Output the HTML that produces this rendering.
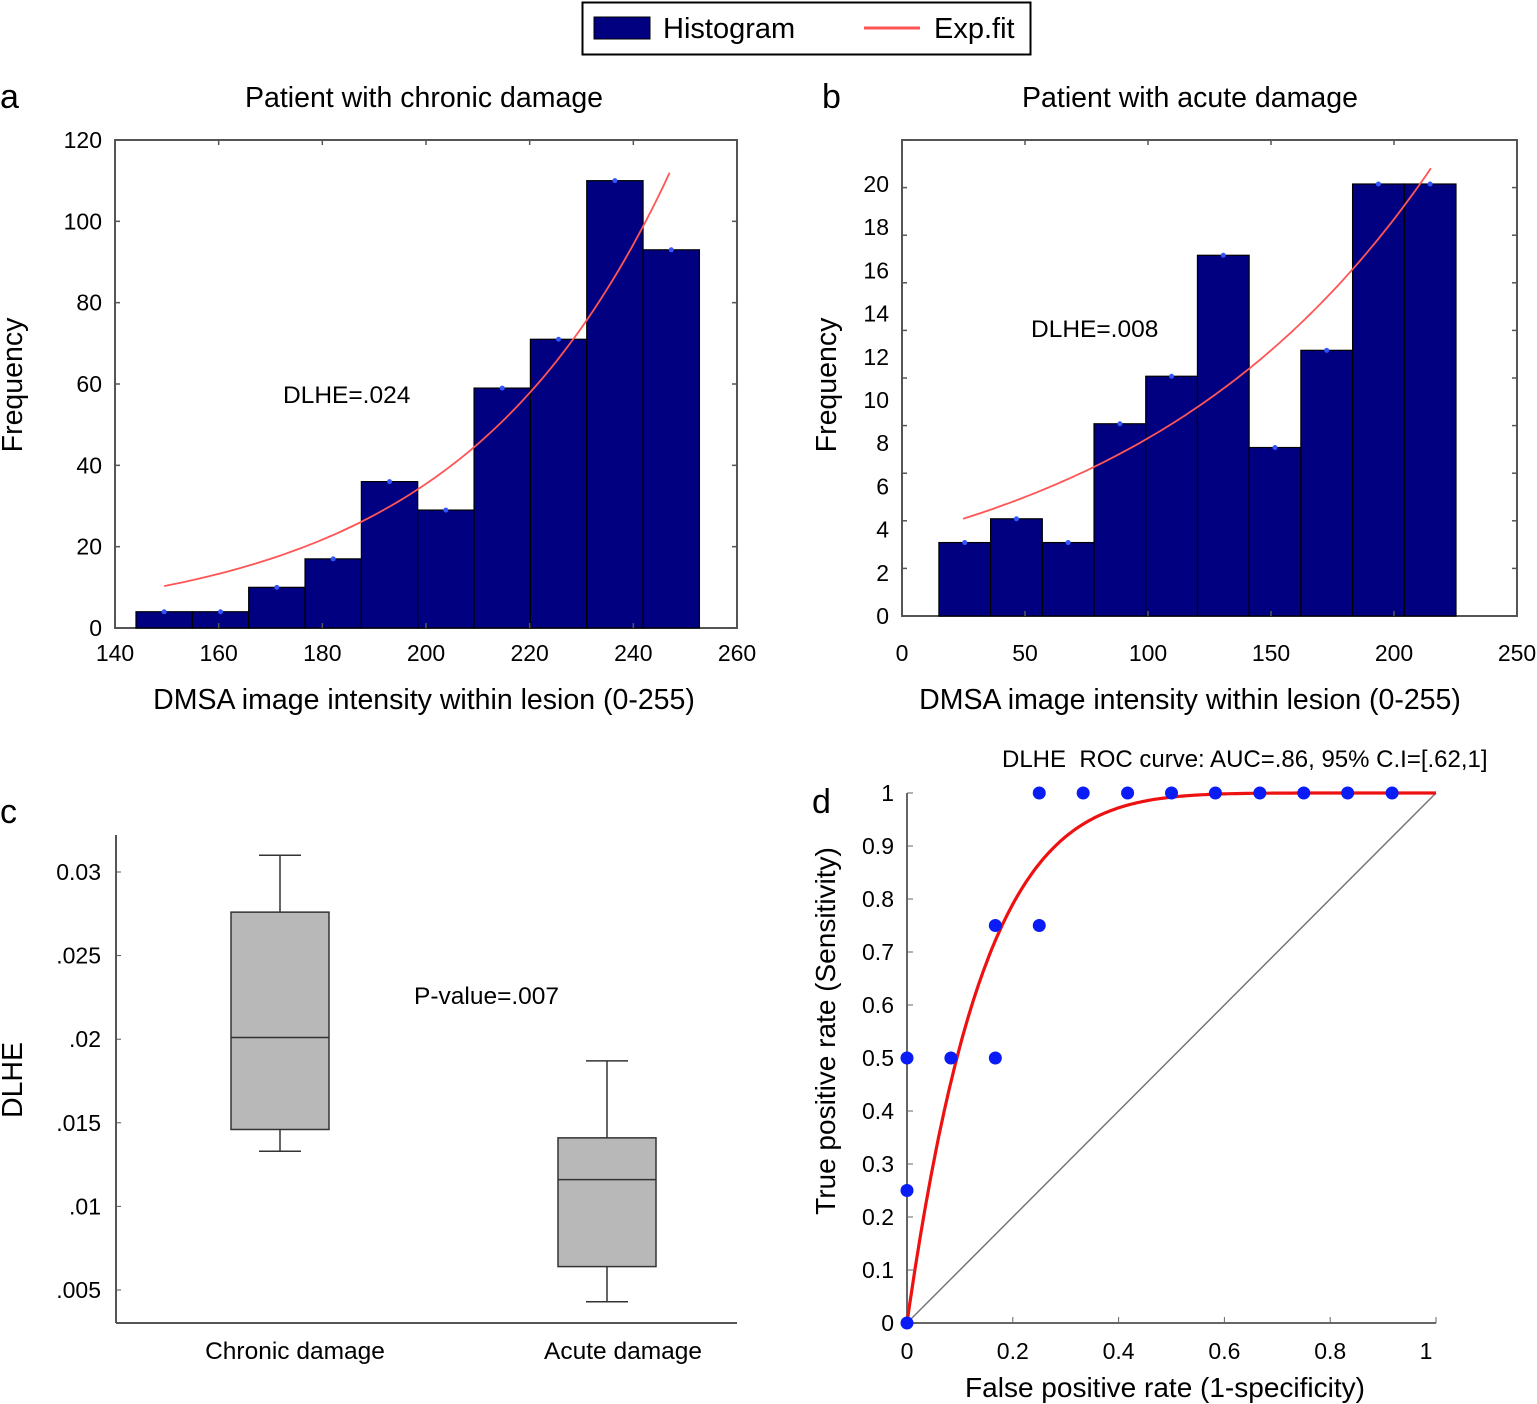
<!DOCTYPE html>
<html><head><meta charset="utf-8"><style>
body{margin:0;background:#fff}
svg{display:block;font-family:"Liberation Sans",Arial,sans-serif}
</style></head><body>
<svg id="fig" width="1537" height="1404" viewBox="0 0 1537 1404" xmlns="http://www.w3.org/2000/svg">
<g>
<rect x="582.5" y="2.5" width="448" height="52" fill="#fff" stroke="#000" stroke-width="2"/>
<rect x="594" y="17" width="56" height="22" fill="#000080" stroke="#000"/>
<text x="663" y="38" font-size="29">Histogram</text>
<line x1="864" y1="28" x2="920" y2="28" stroke="#f55" stroke-width="3"/>
<text x="934" y="38" font-size="29">Exp.fit</text>
</g>
<text x="0" y="108" font-size="34">a</text>
<text x="822" y="108" font-size="34">b</text>
<text x="0" y="823" font-size="34">c</text>
<text x="812" y="813" font-size="34">d</text>
<g id="pa"></g>
<g id="pb"></g>
<g id="pc"></g>
<g id="pd"></g>
</svg>
<script>
// Panel a data
const aBinStart = 144.05, aBinWidth = 10.87;
const aCounts = [4,4,10,17,36,29,59,71,110,93];
const aFitA = 10.3, aFitB = 0.02447, aFitX0 = 149.5, aFitX1 = 247;
const aXTicks = [140,160,180,200,220,240,260];
const aYTicks = [0,20,40,60,80,100,120];
// Panel b data
const bBinStart = 15.0, bBinWidth = 21.02;
const bCounts = [3.4,4.5,3.4,8.9,11.1,16.7,7.8,12.3,20,20];
const bFitA = 4.5, bFitB = 0.00803, bFitX0 = 24.8, bFitX1 = 215;
const bXTicks = [0,50,100,150,200,250];
const bYTicks = [0,2,4,6,8,10,12,14,16,18,20];
// Panel c data
const cGroups = ["Chronic damage","Acute damage"];
const cMin = [0.0133,0.0043];
const cQ1 = [0.0146,0.0064];
const cMed = [0.0201,0.0116];
const cQ3 = [0.0276,0.0141];
const cMax = [0.031,0.0187];
const cYTicks = [0.005,0.01,0.015,0.02,0.025,0.03];
const cYLabels = [".005",".01",".015",".02",".025","0.03"];
// Panel d data
const dFpr = [0,0,0,0.083,0.167,0.167,0.25,0.25,0.333,0.417,0.5,0.583,0.667,0.75,0.833,0.917];
const dTpr = [0,0.25,0.5,0.5,0.5,0.75,0.75,1,1,1,1,1,1,1,1,1];
const dFitK = 7;
const dXTicks = [0,0.2,0.4,0.6,0.8,1];
const dYTicks = [0,0.1,0.2,0.3,0.4,0.5,0.6,0.7,0.8,0.9,1];

const NS="http://www.w3.org/2000/svg";
function mk(parent,tag,attrs,text){const e=document.createElementNS(NS,tag);for(const k in attrs)e.setAttribute(k,attrs[k]);if(text!==undefined)e.textContent=text;parent.appendChild(e);return e;}
function lin(d0,d1,r0,r1){return v=>r0+(v-d0)*(r1-r0)/(d1-d0);}

function hist(g,o){
  const X=lin(o.xmin,o.xmax,o.L,o.R), Y=lin(0,o.ymaxv,o.B,o.yAtMax);
  const YT=o.tickStep?(v=>o.B-v*o.tickStep):Y;
  let t;
  t=mk(g,'rect',{x:o.L,y:o.T,width:o.R-o.L,height:o.B-o.T,fill:'#fff',stroke:'#555','stroke-width':2});
  
  
  o.counts.forEach((c,i)=>{
    const x0=X(o.start+i*o.w), x1=X(o.start+(i+1)*o.w);
    const r=mk(g,'rect',{x:x0,y:Y(c),width:x1-x0,height:o.B-Y(c),fill:'#000080',stroke:'#000','stroke-width':1.2});
    
    
    const d=mk(g,'circle',{cx:(x0+x1)/2,cy:Y(c),r:2.5,fill:'#3355ff'});
    
    
  });
  let p='';
  for(let i=0;i<=80;i++){const v=o.f0+(o.f1-o.f0)*i/80;const yv=o.fa*Math.exp(o.fb*(v-o.f0));p+=(i?'L':'M')+X(v).toFixed(1)+','+Y(yv).toFixed(1);}
  t=mk(g,'path',{d:p,fill:'none',stroke:'#f55','stroke-width':1.8});
  
  
  o.xt.forEach(v=>{
    mk(g,'line',{x1:X(v),x2:X(v),y1:o.B,y2:o.B-5,stroke:'#555','stroke-width':1.5});
    mk(g,'line',{x1:X(v),x2:X(v),y1:o.T,y2:o.T+5,stroke:'#555','stroke-width':1.5});
    t=mk(g,'text',{x:X(v),y:661,'font-size':23,'text-anchor':'middle'},String(v));
    
    
  });
  o.yt.forEach(v=>{
    if(YT(v)>=o.T){
      mk(g,'line',{x1:o.L,x2:o.L+5,y1:YT(v),y2:YT(v),stroke:'#555','stroke-width':1.5});
      mk(g,'line',{x1:o.R,x2:o.R-5,y1:YT(v),y2:YT(v),stroke:'#555','stroke-width':1.5});
    }
    t=mk(g,'text',{x:o.L-13,y:Y(v)+8,'font-size':23,'text-anchor':'end'},String(v));
    
    
  });
  t=mk(g,'text',{x:o.titleX,y:107,'font-size':28.5,'text-anchor':'middle'},o.title);
  
  
  t=mk(g,'text',{x:o.titleX,y:709,'font-size':28.5,'text-anchor':'middle'},'DMSA image intensity within lesion (0-255)');
  
  
  t=mk(g,'text',{x:0,y:0,'font-size':28.5,'text-anchor':'middle',transform:`translate(${o.ytX},${385}) rotate(-90)`},'Frequency');
  
  
  t=mk(g,'text',{x:o.annX,y:o.annY,'font-size':24.5},o.ann);
  
  
}
hist(document.getElementById('pa'),{L:115,R:737,T:140,B:628,xmin:140,xmax:260,ymaxv:120,yAtMax:140,start:aBinStart,w:aBinWidth,counts:aCounts,fa:aFitA,fb:aFitB,f0:aFitX0,f1:aFitX1,xt:aXTicks,yt:aYTicks,title:'Patient with chronic damage',titleX:424,ytX:22,ann:'DLHE=.024',annX:283,annY:403});
hist(document.getElementById('pb'),{L:902,R:1517,T:140,B:616,xmin:0,xmax:250,ymaxv:20,yAtMax:184,tickStep:23.8,start:bBinStart,w:bBinWidth,counts:bCounts,fa:bFitA,fb:bFitB,f0:bFitX0,f1:bFitX1,xt:bXTicks,yt:bYTicks,title:'Patient with acute damage',titleX:1190,ytX:836,ann:'DLHE=.008',annX:1031,annY:337});

// Panel c
(function(){
  const g=document.getElementById('pc');
  const Y=lin(0.03,0.005,872,1290);
  const cx=[280,607], hw=49, cap=21;
  let t;
  mk(g,'line',{x1:116,x2:116,y1:835,y2:1323,stroke:'#555','stroke-width':2});
  mk(g,'line',{x1:116,x2:737,y1:1323,y2:1323,stroke:'#555','stroke-width':2});
  cYTicks.forEach((v,i)=>{
    mk(g,'line',{x1:116,x2:121,y1:Y(v),y2:Y(v),stroke:'#555'});
    t=mk(g,'text',{x:101,y:Y(v)+8,'font-size':23,'text-anchor':'end'},cYLabels[i]);
    
    
  });
  cGroups.forEach((name,i)=>{
    const b=mk(g,'g',{});
    
    
    const st={stroke:'#333','stroke-width':1.5};
    mk(b,'line',Object.assign({x1:cx[i],x2:cx[i],y1:Y(cMax[i]),y2:Y(cQ3[i])},st));
    mk(b,'line',Object.assign({x1:cx[i],x2:cx[i],y1:Y(cQ1[i]),y2:Y(cMin[i])},st));
    mk(b,'line',Object.assign({x1:cx[i]-cap,x2:cx[i]+cap,y1:Y(cMax[i]),y2:Y(cMax[i])},st));
    mk(b,'line',Object.assign({x1:cx[i]-cap,x2:cx[i]+cap,y1:Y(cMin[i]),y2:Y(cMin[i])},st));
    mk(b,'rect',Object.assign({x:cx[i]-hw,y:Y(cQ3[i]),width:2*hw,height:Y(cQ1[i])-Y(cQ3[i]),fill:'#b8b8b8'},st));
    mk(b,'line',Object.assign({x1:cx[i]-hw,x2:cx[i]+hw,y1:Y(cMed[i]),y2:Y(cMed[i])},st));
    t=mk(g,'text',{x:[295,623][i],y:1359,'font-size':24.5,'text-anchor':'middle'},name);
    
    
  });
  t=mk(g,'text',{x:0,y:0,'font-size':28.5,'text-anchor':'middle',transform:'translate(22,1080) rotate(-90)'},'DLHE');
  
  
  t=mk(g,'text',{x:414,y:1004,'font-size':24.5},'P-value=.007');
  
  
})();

// Panel d
(function(){
  const g=document.getElementById('pd');
  const X=lin(0,1,907,1436), Y=lin(0,1,1323,793);
  let t;
  mk(g,'line',{x1:907,x2:907,y1:793,y2:1323,stroke:'#666','stroke-width':2});
  mk(g,'line',{x1:907,x2:1436,y1:1323,y2:1323,stroke:'#666','stroke-width':2});
  t=mk(g,'line',{x1:X(0),y1:Y(0),x2:X(1),y2:Y(1),stroke:'#777','stroke-width':1.5});
  
  
  dXTicks.forEach(v=>{
    mk(g,'line',{x1:X(v),x2:X(v),y1:1323,y2:1317,stroke:'#666'});
    t=mk(g,'text',{x:X(v)-(v===1?10:0),y:1359,'font-size':23,'text-anchor':'middle'},String(v));
    
    
  });
  dYTicks.forEach(v=>{
    mk(g,'line',{x1:907,x2:913,y1:Y(v),y2:Y(v),stroke:'#666'});
    t=mk(g,'text',{x:894,y:Y(v)+8,'font-size':23,'text-anchor':'end'},String(v));
    
    
  });
  let p='';
  for(let i=0;i<=200;i++){const x=i/200;const y=1-Math.pow(1-x,dFitK);p+=(i?'L':'M')+X(x).toFixed(1)+','+Y(y).toFixed(1);}
  t=mk(g,'path',{d:p,fill:'none',stroke:'#ee1111','stroke-width':3.2});
  
  
  dFpr.forEach((x,i)=>{
    const c=mk(g,'circle',{cx:X(x),cy:Y(dTpr[i]),r:6.5,fill:'#0a1cf5'});
    
    
  });
  t=mk(g,'text',{x:1002,y:767,'font-size':24,'xml:space':'preserve'},'DLHE  ROC curve: AUC=.86, 95% C.I=[.62,1]');
  
  
  t.style.whiteSpace='pre';
  t=mk(g,'text',{x:1165,y:1397,'font-size':28,'text-anchor':'middle'},'False positive rate (1-specificity)');
  
  
  t=mk(g,'text',{x:0,y:0,'font-size':28,'text-anchor':'middle',transform:'translate(835,1031) rotate(-90)'},'True positive rate (Sensitivity)');
  
  
})();
</script>
</body></html>
